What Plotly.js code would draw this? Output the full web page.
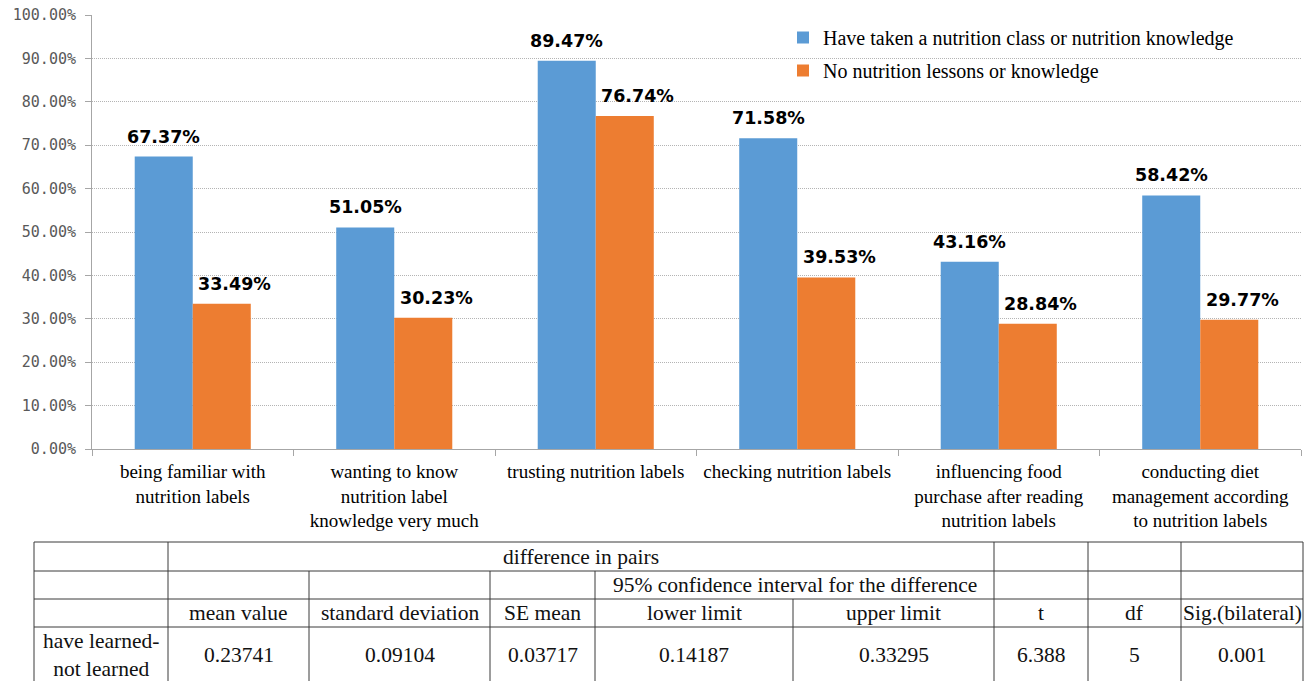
<!DOCTYPE html>
<html>
<head>
<meta charset="utf-8">
<script src="https://cdn.plot.ly/plotly-3.0.1.min.js"></script>
<style>
html,body{margin:0;padding:0;background:#fff;}
#chart{width:1309px;height:681px;}
</style>
</head>
<body>
<div id="chart"></div>
<script>
// ---------- data ----------
var categories = [
  "being familiar with<br>nutrition labels",
  "wanting to know<br>nutrition label<br>knowledge very much",
  "trusting nutrition labels",
  "checking nutrition labels",
  "influencing food<br>purchase after reading<br>nutrition labels",
  "conducting diet<br>management according<br>to nutrition labels"
];
var seriesNames = [
  "Have taken a nutrition class or nutrition knowledge",
  "No nutrition lessons or knowledge"
];
var learnedValues = [67.37, 51.05, 89.47, 71.58, 43.16, 58.42];
var notLearnedValues = [33.49, 30.23, 76.74, 39.53, 28.84, 29.77];
var yTickValues = [0, 10, 20, 30, 40, 50, 60, 70, 80, 90, 100];

// table contents
var tableRow1 = ["", "difference in pairs", "", "", ""];
var tableRow2 = ["", "", "", "", "95% confidence interval for the difference", "", "", ""];
var tableHeader = ["", "mean value", "standard deviation", "SE mean", "lower limit", "upper limit", "t", "df", "Sig.(bilateral)"];
var tableValues = ["have learned-<br>not learned", "0.23741", "0.09104", "0.03717", "0.14187", "0.33295", "6.388", "5", "0.001"];

// ---------- layout geometry ----------
var W = 1309, H = 681;
var M = {l: 92, r: 8, t: 15, b: 232};
var PW = W - M.l - M.r, PH = H - M.t - M.b;
function px2x(px){ return (px - M.l) / PW; }
function py2y(py){ return (H - M.b - py) / PH; }

var colEdges = [34, 168, 309, 490, 595, 793, 994, 1088, 1181, 1303];
var rowEdges = [542, 571, 599, 627, 700];

var blue = "#5B9BD5", orange = "#ED7D31";

var traces = [
  {type: "bar", name: seriesNames[0], x: categories, y: learnedValues,
   marker: {color: blue, line: {width: 0}}, legendgroup: "a", hoverinfo: "y"},
  {type: "bar", name: seriesNames[1], x: categories, y: notLearnedValues,
   marker: {color: orange, line: {width: 0}}, legendgroup: "b", hoverinfo: "y"}
];

var annotations = [];
var labelFont = {family: "DejaVu Sans", size: 17.5, color: "#000"};
learnedValues.forEach(function(v, i){
  annotations.push({x: categories[i], y: v, xref: "x", yref: "y", text: "<b>" + v.toFixed(2) + "%</b>",
    showarrow: false, xanchor: "center", yanchor: "bottom", xshift: -29, yshift: 8, font: labelFont});
});
notLearnedValues.forEach(function(v, i){
  annotations.push({x: categories[i], y: v, xref: "x", yref: "y", text: "<b>" + v.toFixed(2) + "%</b>",
    showarrow: false, xanchor: "center", yanchor: "bottom", xshift: 42, yshift: 8, font: labelFont});
});

// ---------- table ----------
var shapes = [];
var lineStyle = {color: "#3a3a3a", width: 1};
function hline(py, x0, x1){
  shapes.push({type: "line", xref: "paper", yref: "paper", x0: px2x(x0), x1: px2x(x1), y0: py2y(py), y1: py2y(py), line: lineStyle});
}
function vline(px, y0, y1){
  shapes.push({type: "line", xref: "paper", yref: "paper", x0: px2x(px), x1: px2x(px), y0: py2y(y0), y1: py2y(y1), line: lineStyle});
}
var L = colEdges[0], R = colEdges[colEdges.length - 1];
for (var r = 0; r < 4; r++) hline(rowEdges[r], L, R);
[0, 1, 6, 7, 8, 9].forEach(function(c){ vline(colEdges[c], rowEdges[0], rowEdges[4]); });
[2, 3, 4].forEach(function(c){ vline(colEdges[c], rowEdges[1], rowEdges[4]); });
vline(colEdges[5], rowEdges[2], rowEdges[4]);

var tFont = {family: "Liberation Serif", size: 21.5, color: "#111"};
function cellText(text, c0, c1, r0, r1, cy){
  if (!text) return;
  annotations.push({xref: "paper", yref: "paper",
    x: px2x((colEdges[c0] + colEdges[c1]) / 2), y: py2y(cy !== undefined ? cy : (rowEdges[r0] + rowEdges[r1]) / 2),
    text: text, showarrow: false, xanchor: "center", yanchor: "middle", font: tFont});
}
cellText(tableRow1[1], 1, 6, 0, 1);
cellText(tableRow2[4], 4, 6, 1, 2);
tableHeader.forEach(function(t, c){ cellText(t, c, c + 1, 2, 3); });
tableValues.forEach(function(t, c){ cellText(t, c, c + 1, 3, 4, 655); });

var layout = {
  width: W, height: H,
  margin: M,
  paper_bgcolor: "#fff", plot_bgcolor: "#fff",
  barmode: "group",
  bargap: 0.424,
  bargroupgap: 0,
  showlegend: true,
  legend: {x: px2x(783), y: py2y(18), xanchor: "left", yanchor: "top",
    bgcolor: "rgba(0,0,0,0)", font: {family: "Liberation Serif", size: 20, color: "#000"},
    tracegroupgap: 4},
  xaxis: {
    type: "category",
    showline: true, linecolor: "#a6a6a6", linewidth: 1,
    ticks: "outside", tickson: "boundaries", ticklen: 6, tickcolor: "#a6a6a6",
    ticklabelstandoff: 5,
    tickfont: {family: "Liberation Serif", size: 19, color: "#000"},
    showgrid: false, zeroline: false, fixedrange: true
  },
  yaxis: {
    range: [0, 100],
    tickvals: yTickValues,
    ticktext: yTickValues.map(function(v){ return v.toFixed(2) + "%"; }),
    showline: true, linecolor: "#a6a6a6", linewidth: 1,
    ticks: "outside", ticklen: 6, tickcolor: "#a6a6a6",
    ticklabelstandoff: 6,
    tickfont: {family: "DejaVu Sans Mono", size: 15, color: "#595959"},
    showgrid: true, gridcolor: "#b4b4b4", gridwidth: 1, griddash: "1px,1px",
    zeroline: false, fixedrange: true
  },
  annotations: annotations,
  shapes: shapes
};

Plotly.newPlot("chart", traces, layout, {displayModeBar: false, staticPlot: true});
</script>
</body>
</html>
